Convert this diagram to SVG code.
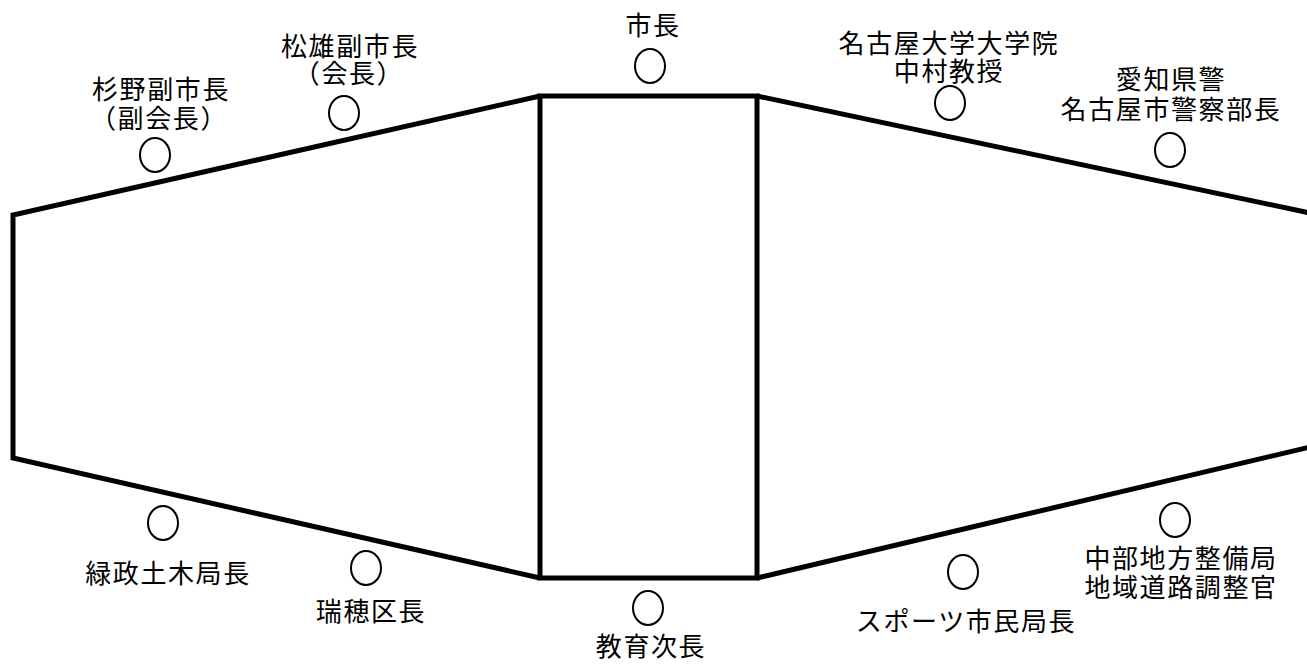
<svg xmlns="http://www.w3.org/2000/svg" width="1307" height="668" viewBox="0 0 1307 668">
<style>
.ln{fill:none;stroke:#000;stroke-width:5;stroke-linejoin:miter}
.c{fill:none;stroke:#000;stroke-width:2}
text{font-family:"Noto Sans CJK JP","Noto Sans",sans-serif;font-size:26px;letter-spacing:1.6px;fill:#000;text-anchor:middle}
</style>
<rect width="1307" height="668" fill="#fff"/>
<g id="connectors">
<polyline class="ln" points="540,96 13,215 13,458 540,578"/>
<rect class="ln" x="540" y="96" width="217" height="482"/>
<polyline class="ln" points="757,96 1310,213"/>
<polyline class="ln" points="757,578 1310,447"/>
</g>
<g id="n-sugino"><ellipse class="c" cx="155" cy="155" rx="15" ry="17"/><text x="161" y="99">杉野副市長</text><text x="159" y="128">（副会長）</text></g>
<g id="n-matsuo"><ellipse class="c" cx="344" cy="113" rx="15" ry="17"/><text x="350" y="56">松雄副市長</text><text x="349" y="83">（会長）</text></g>
<g id="n-mayor"><ellipse class="c" cx="650" cy="66" rx="15" ry="17"/><text x="653" y="35">市長</text></g>
<g id="n-nakamura"><ellipse class="c" cx="950" cy="103" rx="15" ry="17"/><text x="949" y="53">名古屋大学大学院</text><text x="949" y="81">中村教授</text></g>
<g id="n-police"><ellipse class="c" cx="1170" cy="150" rx="15" ry="17"/><text x="1171" y="89">愛知県警</text><text x="1171" y="119">名古屋市警察部長</text></g>
<g id="n-ryokusei"><ellipse class="c" cx="163" cy="523" rx="15" ry="17"/><text x="168" y="583">緑政土木局長</text></g>
<g id="n-mizuho"><ellipse class="c" cx="366" cy="568" rx="15" ry="17"/><text x="371" y="621">瑞穂区長</text></g>
<g id="n-education"><ellipse class="c" cx="648" cy="608" rx="15" ry="17"/><text x="651" y="656">教育次長</text></g>
<g id="n-sports"><ellipse class="c" cx="963" cy="572" rx="15" ry="17"/><text x="966" y="631">スポーツ市民局長</text></g>
<g id="n-chubu"><ellipse class="c" cx="1175" cy="520" rx="15" ry="17"/><text x="1181" y="568">中部地方整備局</text><text x="1181" y="597">地域道路調整官</text></g>
</svg>
